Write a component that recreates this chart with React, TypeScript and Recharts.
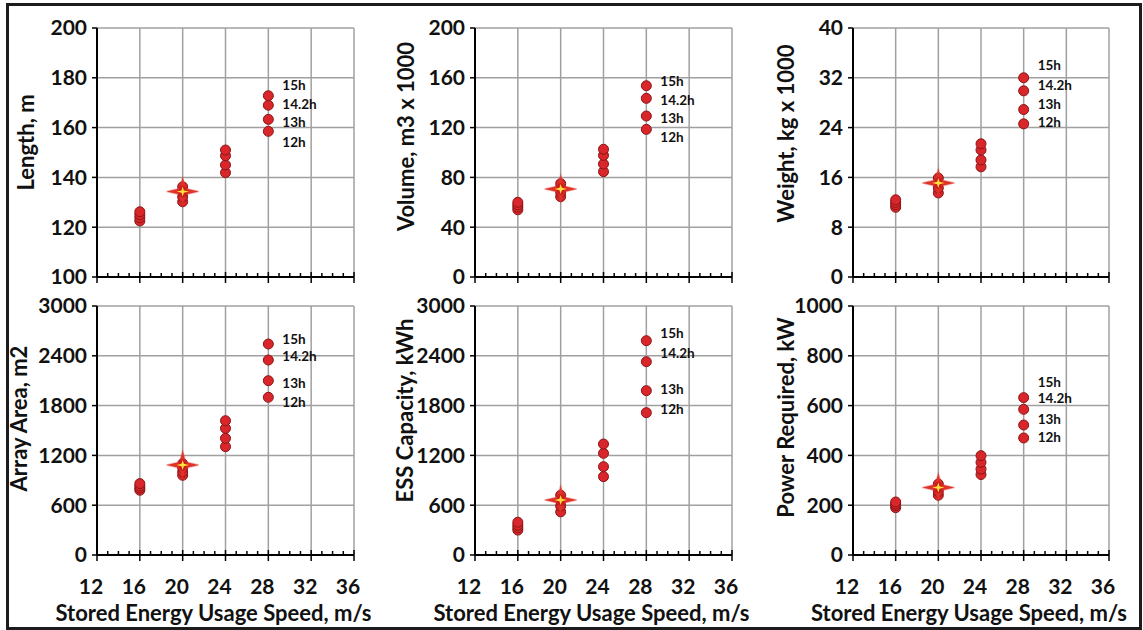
import { ScatterChart, Scatter, XAxis, YAxis, CartesianGrid, ReferenceLine } from 'recharts'

const FONT = 'Lato, "Open Sans", Arial, sans-serif'

// shared x data
const speeds = [16, 20, 24, 28]
const hourLabels = ['12h', '13h', '14.2h', '15h']
const xTicks = [12, 16, 20, 24, 28, 32, 36]
const xAllTicks = [12, 13, 14, 15, 16, 17, 18, 19, 20, 21, 22, 23, 24, 25, 26, 27, 28, 29, 30, 31, 32, 33, 34, 35, 36]

// values per speed, ordered 12h, 13h, 14.2h, 15h
const lengthValues = [
  [122.5, 123.8, 125, 126.2],
  [130.2, 132.2, 134.2, 136.2],
  [141.9, 145, 148.7, 151],
  [158.5, 163.3, 169, 172.8],
]
const lengthBaseline = 134.3
const lengthTicks = [100, 120, 140, 160, 180, 200]

const volumeValues = [
  [54, 56, 58, 60],
  [64.5, 68, 71.5, 75],
  [84.6, 90.8, 97.7, 102.6],
  [118.6, 129.3, 143.5, 153.6],
]
const volumeBaseline = 70.7
const volumeTicks = [0, 40, 80, 120, 160, 200]

const weightValues = [
  [11.2, 11.6, 12.0, 12.4],
  [13.5, 14.3, 15.1, 15.9],
  [17.7, 18.8, 20.4, 21.4],
  [24.6, 26.9, 29.9, 32.0],
]
const weightBaseline = 15.1
const weightTicks = [0, 8, 16, 24, 32, 40]

const areaValues = [
  [780, 805, 830, 860],
  [960, 1000, 1050, 1100],
  [1305, 1406, 1526, 1618],
  [1900, 2100, 2349, 2542],
]
const areaBaseline = 1084
const areaTicks = [0, 600, 1200, 1800, 2400, 3000]

const essValues = [
  [300, 330, 360, 395],
  [520, 590, 650, 720],
  [944, 1064, 1225, 1337],
  [1715, 1980, 2329, 2582],
]
const essBaseline = 663
const essTicks = [0, 600, 1200, 1800, 2400, 3000]

const powerValues = [
  [190, 198, 205, 213],
  [240, 255, 270, 285],
  [323, 345, 372, 399],
  [470, 522, 585, 632],
]
const powerBaseline = 271
const powerTicks = [0, 200, 400, 600, 800, 1000]

type Panel = {
  title: string
  values: number[][]
  baseline: number
  ticks: number[]
  left: number
  top: number
  width: number
  height: number
  axisW: number
  marginTop: number
  marginRight: number
  axisH: number
  bottom: boolean
  titleX: number
  titleDy: number
  labelDy: number[]
}

const panels: Panel[] = [
  { title: 'Length, m', values: lengthValues, baseline: lengthBaseline, ticks: lengthTicks,
    left: 0, top: 0, width: 380, height: 300, axisW: 97, marginTop: 28, marginRight: 26, axisH: 23, bottom: false,
    titleX: 25, titleDy: -10, labelDy: [11, 3, -1, -11] },
  { title: 'Volume, m3 x 1000', values: volumeValues, baseline: volumeBaseline, ticks: volumeTicks,
    left: 380, top: 0, width: 380, height: 300, axisW: 95, marginTop: 28, marginRight: 28, axisH: 23, bottom: false,
    titleX: 25, titleDy: -16, labelDy: [8, 2, 2, -5] },
  { title: 'Weight, kg x 1000', values: weightValues, baseline: weightBaseline, ticks: weightTicks,
    left: 760, top: 0, width: 383, height: 300, axisW: 93, marginTop: 28, marginRight: 34, axisH: 23, bottom: false,
    titleX: 25, titleDy: -19, labelDy: [-2, -6, -6, -13] },
  { title: 'Array Area, m2', values: areaValues, baseline: areaBaseline, ticks: areaTicks,
    left: 0, top: 290, width: 380, height: 340, axisW: 97, marginTop: 16, marginRight: 26, axisH: 75, bottom: true,
    titleX: 18, titleDy: -12, labelDy: [5, 2, -4, -5] },
  { title: 'ESS Capacity, kWh', values: essValues, baseline: essBaseline, ticks: essTicks,
    left: 380, top: 290, width: 380, height: 340, axisW: 95, marginTop: 16, marginRight: 28, axisH: 75, bottom: true,
    titleX: 24, titleDy: -20, labelDy: [-4, -2, -9, -8] },
  { title: 'Power Required, kW', values: powerValues, baseline: powerBaseline, ticks: powerTicks,
    left: 760, top: 290, width: 383, height: 340, axisW: 93, marginTop: 16, marginRight: 34, axisH: 75, bottom: true,
    titleX: 25, titleDy: -13, labelDy: [-1, -6, -11, -16] },
]

const DOT_FILL = '#d8262a'
const DOT_STROKE = '#8a1616'
const GRID = '#a0a0a0'

const toPoints = (values: number[][], cols: number[]) =>
  cols.flatMap((i) => values[i].map((v, j) => ({ x: speeds[i], y: v, hour: hourLabels[j], h: j })))

const XTick = (props: any) => {
  const { x, y, payload, showLabel } = props
  const v = payload.value
  const major = v % 4 === 0
  return (
    <g>
      {major ? (
        <line x1={x} x2={x} y1={y - 5} y2={y + 6} stroke="#000" strokeWidth={1.5} />
      ) : (
        <line x1={x} x2={x} y1={y - 4} y2={y} stroke="#000" strokeWidth={1.5} />
      )}
      {major && showLabel && (
        <text x={x - 6} y={y + 30} textAnchor="middle" dominantBaseline="central"
          fontSize={21} fontWeight={700} fontFamily={FONT} fill="#111">
          {v}
        </text>
      )}
    </g>
  )
}

const YTitle = (props: any) => {
  const { viewBox, text, tx, dy } = props
  const cx = tx
  const cy = viewBox.y + viewBox.height / 2 + dy
  return (
    <text x={cx} y={cy} transform={`rotate(-90 ${cx} ${cy})`} textAnchor="middle" dominantBaseline="central"
      fontSize={22} fontWeight={700} fontFamily={FONT} fill="#111">
      {text}
    </text>
  )
}

const XTitle = (props: any) => {
  const { viewBox } = props
  const cx = viewBox.x + viewBox.width / 2 - 12
  const cy = viewBox.y + 57
  return (
    <text x={cx} y={cy} textAnchor="middle" dominantBaseline="central"
      fontSize={22} fontWeight={700} fontFamily={FONT} fill="#111">
      Stored Energy Usage Speed, m/s
    </text>
  )
}

const Star = (p: any) => {
  const { cx, cy } = p
  const big = `M${cx - 16},${cy} L${cx - 3},${cy - 3} L${cx},${cy - 14} L${cx + 3},${cy - 3} L${cx + 16},${cy} L${cx + 3},${cy + 3} L${cx},${cy + 13} L${cx - 3},${cy + 3} Z`
  const small = `M${cx - 6},${cy} L${cx - 1.2},${cy - 1.2} L${cx},${cy - 5} L${cx + 1.2},${cy - 1.2} L${cx + 6},${cy} L${cx + 1.2},${cy + 1.2} L${cx},${cy + 5} L${cx - 1.2},${cy + 1.2} Z`
  return (
    <g>
      <path d={big} fill="#e0332a" stroke="#e0332a" strokeOpacity={0.4} strokeWidth={1.5} />
      <ellipse cx={cx} cy={cy} rx={4} ry={6} fill="#c81e1e" />
      <path d={small} fill="#ffe23a" />
    </g>
  )
}

const PanelChart = ({ p }: { p: Panel }) => {
  const lower = toPoints(p.values, [0, 1, 2])
  const upper = toPoints(p.values, [3])
  const star = [{ x: speeds[1], y: p.baseline }]
  return (
    <div style={{ position: 'absolute', left: p.left, top: p.top }}>
      <ScatterChart width={p.width} height={p.height}
        margin={{ top: p.marginTop, right: p.marginRight, bottom: 0, left: 0 }}>
        <CartesianGrid vertical={false} stroke={GRID} strokeWidth={1.5} />
        {xTicks.slice(1).map((v) => (
          <ReferenceLine key={v} x={v} stroke={GRID} strokeWidth={1.5} />
        ))}
        <XAxis type="number" dataKey="x" domain={[12, 36]} ticks={xAllTicks} interval={0}
          height={p.axisH} tickSize={0} tickMargin={0} tickLine={false}
          axisLine={{ stroke: '#000', strokeWidth: 2 }}
          tick={(t: any) => <XTick {...t} showLabel={p.bottom} />}
          label={p.bottom ? <XTitle /> : undefined} />
        <YAxis type="number" dataKey="y" domain={[p.ticks[0], p.ticks[p.ticks.length - 1]]} ticks={p.ticks}
          interval={0} width={p.axisW} tickSize={5} tickMargin={5}
          tickLine={{ stroke: '#000', strokeWidth: 1.5 }}
          axisLine={{ stroke: '#000', strokeWidth: 2 }}
          tick={{ fontSize: 21, fontWeight: 700, fill: '#111', fontFamily: FONT }}
          label={<YTitle text={p.title} tx={p.titleX} dy={p.titleDy} />} />
        <Scatter data={lower} isAnimationActive={false}
          shape={(s: any) => (
            <circle cx={s.cx} cy={s.cy} r={5} fill={DOT_FILL} stroke={DOT_STROKE} strokeWidth={1} />
          )} />
        <Scatter data={upper} isAnimationActive={false}
          shape={(s: any) => (
            <g>
              <circle cx={s.cx} cy={s.cy} r={5} fill={DOT_FILL} stroke={DOT_STROKE} strokeWidth={1} />
              <text x={s.cx + 14} y={s.cy + p.labelDy[s.payload.h]} dominantBaseline="central"
                fontSize={13.5} fontWeight={700} fontFamily={FONT} fill="#111">
                {s.payload.hour}
              </text>
            </g>
          )} />
        <Scatter data={star} isAnimationActive={false} shape={(s: any) => <Star {...s} />} />
      </ScatterChart>
    </div>
  )
}

export default function App() {
  return (
    <div style={{ position: 'absolute', left: 0, top: 0, width: 1143, height: 630, background: '#fff', overflow: 'hidden' }}>
      <div style={{ position: 'absolute', left: 6, top: 3, width: 1136, height: 627, border: '3px solid #1c1c1c', boxSizing: 'border-box' }} />
      {panels.map((p) => (
        <PanelChart key={p.title} p={p} />
      ))}
    </div>
  )
}
